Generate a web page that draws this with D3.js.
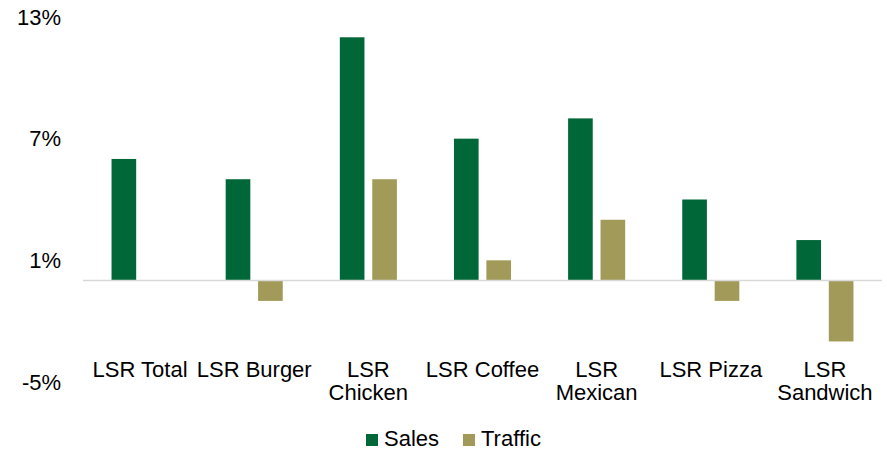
<!DOCTYPE html>
<html>
<head>
<meta charset="utf-8">
<script src="https://cdn.jsdelivr.net/npm/d3@7"></script>
<style>
  html, body { margin: 0; padding: 0; background: #fff; }
  svg { display: block; font-family: "Liberation Sans", Arial, sans-serif; }
</style>
</head>
<body>
<svg id="chart" width="887" height="451"></svg>
<script>
// Limited-service restaurant segments, year-over-year change (%)
const categories = [
  ["LSR Total"],
  ["LSR Burger"],
  ["LSR", "Chicken"],
  ["LSR Coffee"],
  ["LSR", "Mexican"],
  ["LSR Pizza"],
  ["LSR", "Sandwich"]
];
const seriesNames = ["Sales", "Traffic"];
const salesValues = [6, 5, 12, 7, 8, 4, 2];
const trafficValues = [0, -1, 5, 1, 3, -1, -3];
const tickValues = [13, 7, 1, -5];
const colors = ["#006838", "#A19A59"];

const svg = d3.select("#chart");
const plotLeft = 83, plotRight = 882, plotTop = 17, plotBottom = 382;
const fontSize = 22;

const x = d3.scaleBand()
  .domain(d3.range(categories.length))
  .range([plotLeft, plotRight])
  .paddingInner(0.5)
  .paddingOuter(0.25);

const xs = d3.scaleBand()
  .domain(seriesNames)
  .range([0, x.bandwidth()])
  .paddingInner(0.24);

const y = d3.scaleLinear().domain([-5, 13]).range([plotBottom, plotTop]);

// Y axis labels
const yAxis = d3.axisLeft(y).tickValues(tickValues).tickFormat(d => d + "%").tickSize(0).tickPadding(0);
const gy = svg.append("g").attr("transform", "translate(61,0)").call(yAxis);
gy.select(".domain").remove();
gy.selectAll("text")
  .attr("font-size", fontSize)
  .attr("font-family", "Liberation Sans, Arial, sans-serif")
  .attr("fill", "#000");

// Bars
const data = categories.map((c, i) => ({ i, values: [salesValues[i], trafficValues[i]] }));
const groups = svg.append("g").selectAll("g")
  .data(data).join("g")
  .attr("transform", d => `translate(${x(d.i)},0)`);

groups.selectAll("rect")
  .data(d => d.values.map((v, k) => ({ v, k })))
  .join("rect")
  .attr("x", d => xs(seriesNames[d.k]))
  .attr("width", xs.bandwidth())
  .attr("y", d => y(Math.max(0, d.v)))
  .attr("height", d => Math.abs(y(d.v) - y(0)))
  .attr("fill", d => colors[d.k]);

// Zero line
svg.append("line")
  .attr("x1", plotLeft).attr("x2", plotRight)
  .attr("y1", y(0)).attr("y2", y(0))
  .attr("stroke", "#d9d9d9").attr("stroke-width", 1.5);

// Category labels
const labels = svg.append("g").selectAll("text")
  .data(categories.map((c, i) => ({ c, i })))
  .join("text")
  .attr("x", d => x(d.i) + x.bandwidth() / 2)
  .attr("y", 377)
  .attr("text-anchor", "middle")
  .attr("font-size", fontSize)
  .attr("fill", "#000");
labels.selectAll("tspan")
  .data(d => d.c.map((line, j) => ({ line, j, cx: x(d.i) + x.bandwidth() / 2 })))
  .join("tspan")
  .attr("x", d => d.cx)
  .attr("dy", d => d.j === 0 ? 0 : 23)
  .text(d => d.line);

// Legend
const legendItems = [
  { name: seriesNames[0], color: colors[0], x: 366 },
  { name: seriesNames[1], color: colors[1], x: 463 }
];
const lg = svg.append("g").selectAll("g").data(legendItems).join("g")
  .attr("transform", d => `translate(${d.x},0)`);
lg.append("rect").attr("x", 0).attr("y", 434).attr("width", 12).attr("height", 12).attr("fill", d => d.color);
lg.append("text").attr("x", 18).attr("y", 446).attr("font-size", fontSize).attr("fill", "#000").text(d => d.name);
</script>
</body>
</html>
